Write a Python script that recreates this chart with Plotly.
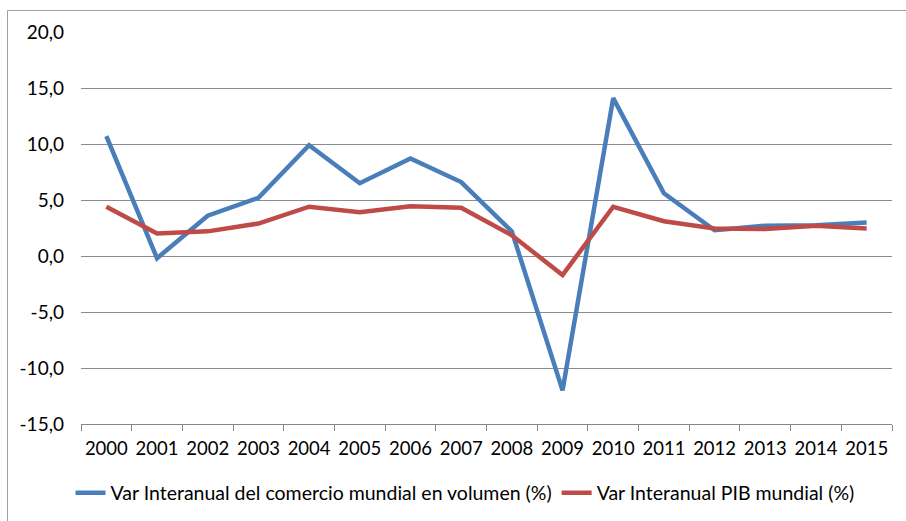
import plotly.graph_objects as go

years = ["2000", "2001", "2002", "2003", "2004", "2005", "2006", "2007",
         "2008", "2009", "2010", "2011", "2012", "2013", "2014", "2015"]
comercio = [10.7, -0.2, 3.6, 5.2, 9.9, 6.5, 8.7, 6.6,
            2.2, -12.0, 14.1, 5.6, 2.3, 2.7, 2.75, 3.0]
pib = [4.4, 2.0, 2.2, 2.9, 4.4, 3.9, 4.45, 4.3,
       1.85, -1.7, 4.4, 3.1, 2.45, 2.4, 2.7, 2.45]
name_comercio = "Var Interanual del comercio mundial en volumen (%)"
name_pib = "Var Interanual PIB mundial (%)"
y_ticks = [-15, -10, -5, 0, 5, 10, 15, 20]
y_ticktext = ["-15,0", "-10,0", "-5,0", "0,0", "5,0", "10,0", "15,0", "20,0"]

FONT = "Lato, Liberation Sans, Arial, sans-serif"

fig = go.Figure()
fig.add_trace(go.Scatter(x=years, y=comercio, mode="lines", name=name_comercio,
                         line=dict(color="#4A7EBB", width=4.5)))
fig.add_trace(go.Scatter(x=years, y=pib, mode="lines", name=name_pib,
                         line=dict(color="#BE4B48", width=4.5)))

W, H = 906, 521
L, R, T, B = 81, 892, 32, 424
pw, ph = R - L, B - T

fig.update_layout(
    width=W, height=H,
    margin=dict(l=L, r=W - R, t=T, b=H - B, autoexpand=False),
    paper_bgcolor="white", plot_bgcolor="white",
    font=dict(family=FONT, size=19, color="black"),
    showlegend=True,
    legend=dict(orientation="h", xref="container", yref="container",
                x=465 / W, xanchor="center", y=1 - 493 / H, yanchor="middle",
                font=dict(family=FONT, size=19.5), tracegroupgap=0,
                bgcolor="rgba(0,0,0,0)"),
    xaxis=dict(type="category", showgrid=False, showline=True, linecolor="#868686",
               linewidth=1, ticks="outside", tickson="boundaries", ticklen=6,
               tickcolor="#868686", tickfont=dict(size=18.5), tickangle=0,
               ticklabelstandoff=8, range=[-0.5, 15.5], automargin=False),
    yaxis=dict(range=[-15, 20], tickvals=y_ticks, ticktext=y_ticktext, showgrid=True,
               gridcolor="#8C8C8C", gridwidth=1, zeroline=False, showline=False,
               ticks="", tickfont=dict(size=19), ticklabelstandoff=16,
               automargin=False),
    shapes=[dict(type="rect", xref="paper", yref="paper",
                 x0=(7.5 - L) / pw, x1=(960 - L) / pw,
                 y0=(B - 600) / ph, y1=(B - 10.5) / ph,
                 line=dict(color="#A0A0A0", width=1), fillcolor="rgba(0,0,0,0)",
                 layer="below")],
)

fig.write_html("out.html", config={"displayModeBar": False},
               post_script="document.body.style.margin='0';document.body.style.overflow='hidden';")
